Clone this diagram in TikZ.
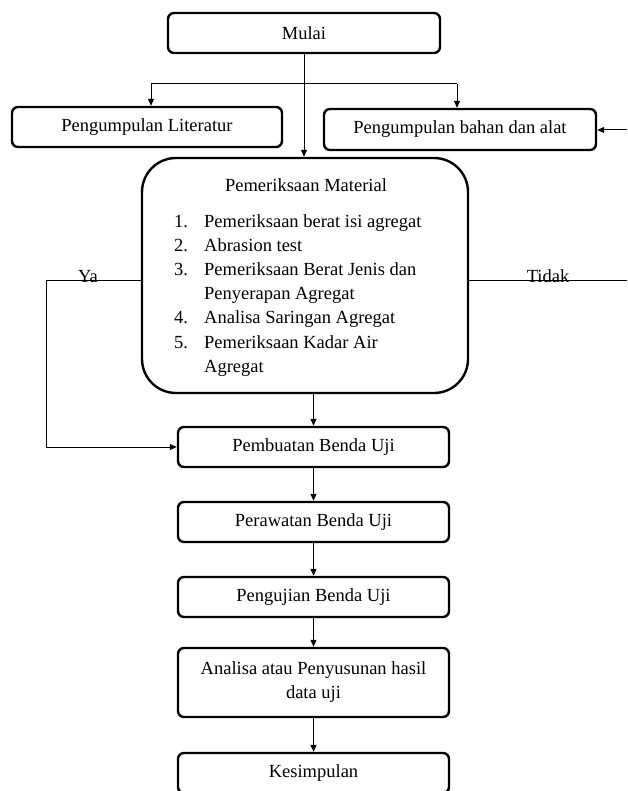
\documentclass[tikz,border=0pt]{standalone}
\usepackage{fontspec}
\setmainfont{Liberation Serif}
\usepackage{tikz}
\usetikzlibrary{arrows.meta}
\tikzstyle{blk}=[rectangle,rounded corners=6pt,draw=black,line width=2.4pt,
  inner sep=3pt,minimum width=271pt,minimum height=40pt,align=center,
  font=\fontsize{18.5}{24}\selectfont]
\tikzstyle{bigblk}=[rectangle,rounded corners=34pt,draw=black,line width=2.4pt,
  minimum width=326pt,minimum height=235pt]
\tikzstyle{txt}=[inner sep=0pt,font=\fontsize{18.5}{24}\selectfont]
\tikzstyle{ln}=[line width=1pt]
\tikzstyle{arr}=[line width=1pt,-{Triangle[length=7pt,width=6pt]}]

\begin{document}
\begin{tikzpicture}[x=1pt,y=-1pt]
        \useasboundingbox (0,0) rectangle (627,791);
        \node [style=blk,minimum width=272pt] (mulai) at (304,33) {Mulai};
        \node [style=blk,minimum width=270pt] (lit) at (147,127) {Pengumpulan Literatur};
        \node [style=blk,minimum width=272pt,minimum height=41pt] (bhn) at (460,129.5) {Pengumpulan bahan dan alat};
        \node [style=bigblk] (mat) at (305,275.5) {};
        \node [style=txt,anchor=base] (judul) at (306,192) {Pemeriksaan Material};
        \node [style=txt,anchor=base west] (daftar) at (174,228) {%
          \begin{tabular}[t]{@{}p{30pt}@{}l@{}}
          1. & Pemeriksaan berat isi agregat\\
          2. & Abrasion test\\
          3. & Pemeriksaan Berat Jenis dan\\
             & Penyerapan Agregat\\
          4. & Analisa Saringan Agregat\\
          5. & Pemeriksaan Kadar Air\\
             & Agregat
          \end{tabular}};
        \node [style=blk] (buat) at (313.5,447) {Pembuatan Benda Uji};
        \node [style=blk] (rawat) at (313.5,522) {Perawatan Benda Uji};
        \node [style=blk] (uji) at (313.5,597) {Pengujian Benda Uji};
        \node [style=blk,minimum height=69pt] (ana) at (313.5,682.5) {Analisa atau Penyusunan hasil\\data uji};
        \node [style=blk] (simp) at (313.5,773) {Kesimpulan};
        \node [style=txt,anchor=base] (ya) at (88,282) {Ya};
        \node [style=txt,anchor=base] (tidak) at (548,282) {Tidak};
        \coordinate (pkiri) at (151,84);
        \coordinate (pkanan) at (457,84);
        \coordinate (ykiri) at (46,280);
        \coordinate (tkanan) at (627,280);
        \coordinate (masuk) at (627,130);
        \draw [style=arr] (mulai.south) to (mulai.south |- mat.north);
        \draw [style=ln] (pkiri) to (pkanan);
        \draw [style=arr] (pkiri) to (pkiri |- lit.north);
        \draw [style=arr] (pkanan) to (pkanan |- bhn.north);
        \draw [style=arr] (masuk) to (bhn.east |- masuk);
        \draw [style=arr] (mat.west |- ykiri) -- (ykiri) -- (ykiri |- buat.west) -- (buat.west);
        \draw [style=ln] (mat.east |- tkanan) to (tkanan);
        \draw [style=arr] (mat.south -| buat.north) to (buat.north);
        \draw [style=arr] (buat) to (rawat);
        \draw [style=arr] (rawat) to (uji);
        \draw [style=arr] (uji) to (ana);
        \draw [style=arr] (ana) to (simp);
    \end{tikzpicture}
\end{document}
